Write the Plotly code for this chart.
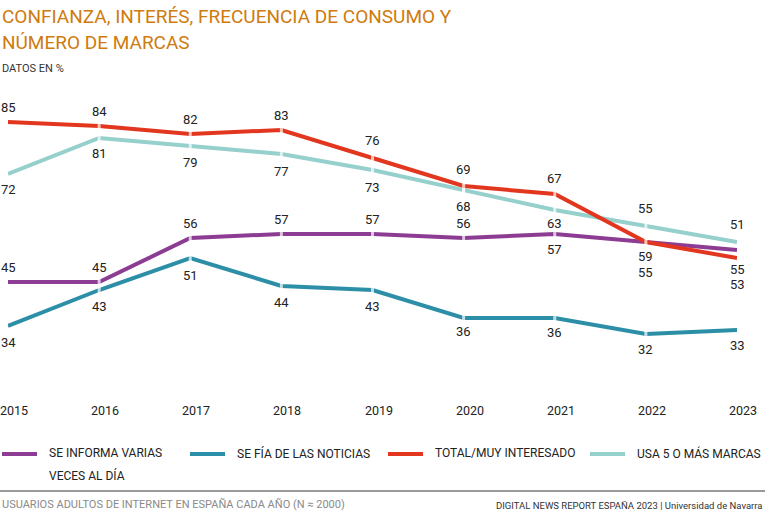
import plotly.graph_objects as go

W, H = 768, 527

years = [2015, 2016, 2017, 2018, 2019, 2020, 2021, 2022, 2023]
informa = [45, 45, 56, 57, 57, 56, 57, 55, 53]        # SE INFORMA VARIAS VECES AL DÍA
fia = [34, 43, 51, 44, 43, 36, 36, 32, 33]            # SE FÍA DE LAS NOTICIAS
interesado = [85, 84, 82, 83, 76, 69, 67, 55, 51]     # TOTAL/MUY INTERESADO
marcas = [72, 81, 79, 77, 73, 68, 63, 59, 55]         # USA 5 O MÁS MARCAS

legend_lines = [["SE INFORMA VARIAS", "VECES AL DÍA"], ["SE FÍA DE LAS NOTICIAS"],
                ["TOTAL/MUY INTERESADO"], ["USA 5 O MÁS MARCAS"]]
colors = ["#8c3c92", "#2c8fa7", "#e2361f", "#96d0cc"]

# label vertical offsets (px) per series / year
shift_informa = [15, 15, 15, 15, 15, 15, -15, -30, -34]
shift_fia = [-16, -16, -17, -16, -16, -13, -14, -15, -15]
shift_interesado = [15, 15, 15, 15, 18, 17, 16, 34, 34]
shift_marcas = [-15, -15, -16, -17, -17, -16, -13, -30, -27]

FONT = "Roboto, Arial, sans-serif"

# plot area in pixels
X0, X1 = 8, 737
Y0, Y1 = 102, 382
YMIN, YMAX = 20, 90

def px(x):
    return x / W

def py(y):
    return 1 - y / H

fig = go.Figure()

series = [(informa, shift_informa), (fia, shift_fia),
          (interesado, shift_interesado), (marcas, shift_marcas)]
order = [1, 0, 3, 2]
for i in order:
    vals, _ = series[i]
    sizes = [0] + [9] * (len(years) - 2) + [0]
    fig.add_trace(go.Scatter(
        x=years, y=vals, mode="lines+markers", name=" ".join(legend_lines[i]),
        line=dict(color=colors[i], width=4),
        marker=dict(symbol="line-ns", size=sizes,
                    line=dict(color="white", width=3), color="white"),
        cliponaxis=False, showlegend=False, hoverinfo="skip"))

annotations = []
for i, (vals, shifts) in enumerate(series):
    for yr, v, s in zip(years, vals, shifts):
        annotations.append(dict(
            x=yr, y=v, xref="x", yref="y", text=str(v), showarrow=False,
            yshift=s, font=dict(family=FONT, size=13, color="#222222")))

# Year labels under the plot
for yr in years:
    annotations.append(dict(
        x=yr, y=py(410), xref="x", yref="paper", text=str(yr), showarrow=False,
        xshift=6, yanchor="middle",
        font=dict(family=FONT, size=12.5, color="#222222")))

# Title
title_lines = ["CONFIANZA, INTERÉS, FRECUENCIA DE CONSUMO Y", "NÚMERO DE MARCAS"]
for k, t in enumerate(title_lines):
    annotations.append(dict(
        x=px(0), y=py(17 + 25 * k), xref="paper", yref="paper", xanchor="left",
        yanchor="middle", showarrow=False, text=t,
        font=dict(family=FONT, size=19, color="#cf7b0e")))
annotations.append(dict(
    x=px(0), y=py(68), xref="paper", yref="paper", xanchor="left", yanchor="middle",
    showarrow=False, text="DATOS EN %",
    font=dict(family=FONT, size=11, color="#333333")))

# Legend
shapes = []
leg_x = [2, 190, 388, 590]
for i in range(4):
    shapes.append(dict(type="line", xref="paper", yref="paper",
                       x0=px(leg_x[i]), x1=px(leg_x[i] + 35), y0=py(454), y1=py(454),
                       line=dict(color=colors[i], width=4)))
    for k, t in enumerate(legend_lines[i]):
        annotations.append(dict(
            x=px(leg_x[i] + 45), y=py(453 + 22 * k), xref="paper", yref="paper",
            xanchor="left", yanchor="middle", align="left", showarrow=False,
            text=t, font=dict(family=FONT, size=12, color="#222222")))

# Footer
shapes.append(dict(type="line", xref="paper", yref="paper",
                   x0=px(0), x1=px(765), y0=py(491), y1=py(491),
                   line=dict(color="#9a9a9a", width=2)))
annotations.append(dict(
    x=px(0), y=py(504), xref="paper", yref="paper", xanchor="left", yanchor="middle",
    showarrow=False, text="USUARIOS ADULTOS DE INTERNET EN ESPAÑA CADA AÑO (N ≈ 2000)",
    font=dict(family=FONT, size=11, color="#8a8a8a")))
annotations.append(dict(
    x=px(765), y=py(505), xref="paper", yref="paper", xanchor="right", yanchor="middle",
    showarrow=False, text="DIGITAL NEWS REPORT ESPAÑA 2023 | Universidad de Navarra",
    font=dict(family=FONT, size=9.5, color="#333333")))

fig.update_layout(
    width=W, height=H, margin=dict(l=0, r=0, t=0, b=0),
    paper_bgcolor="white", plot_bgcolor="white",
    showlegend=False,
    xaxis=dict(domain=[px(X0), px(X1)], range=[2015, 2023],
               showgrid=False, zeroline=False, showline=False, ticks="",
               showticklabels=False, automargin=False),
    yaxis=dict(domain=[1 - Y1 / H, 1 - Y0 / H], range=[YMIN, YMAX],
               showgrid=False, zeroline=False, showline=False,
               showticklabels=False, automargin=False),
    annotations=annotations, shapes=shapes,
)

fig.write_html("out.html", config={"displayModeBar": False},
               post_script="document.body.style.margin='0';"
                           "document.body.style.overflow='hidden';")
